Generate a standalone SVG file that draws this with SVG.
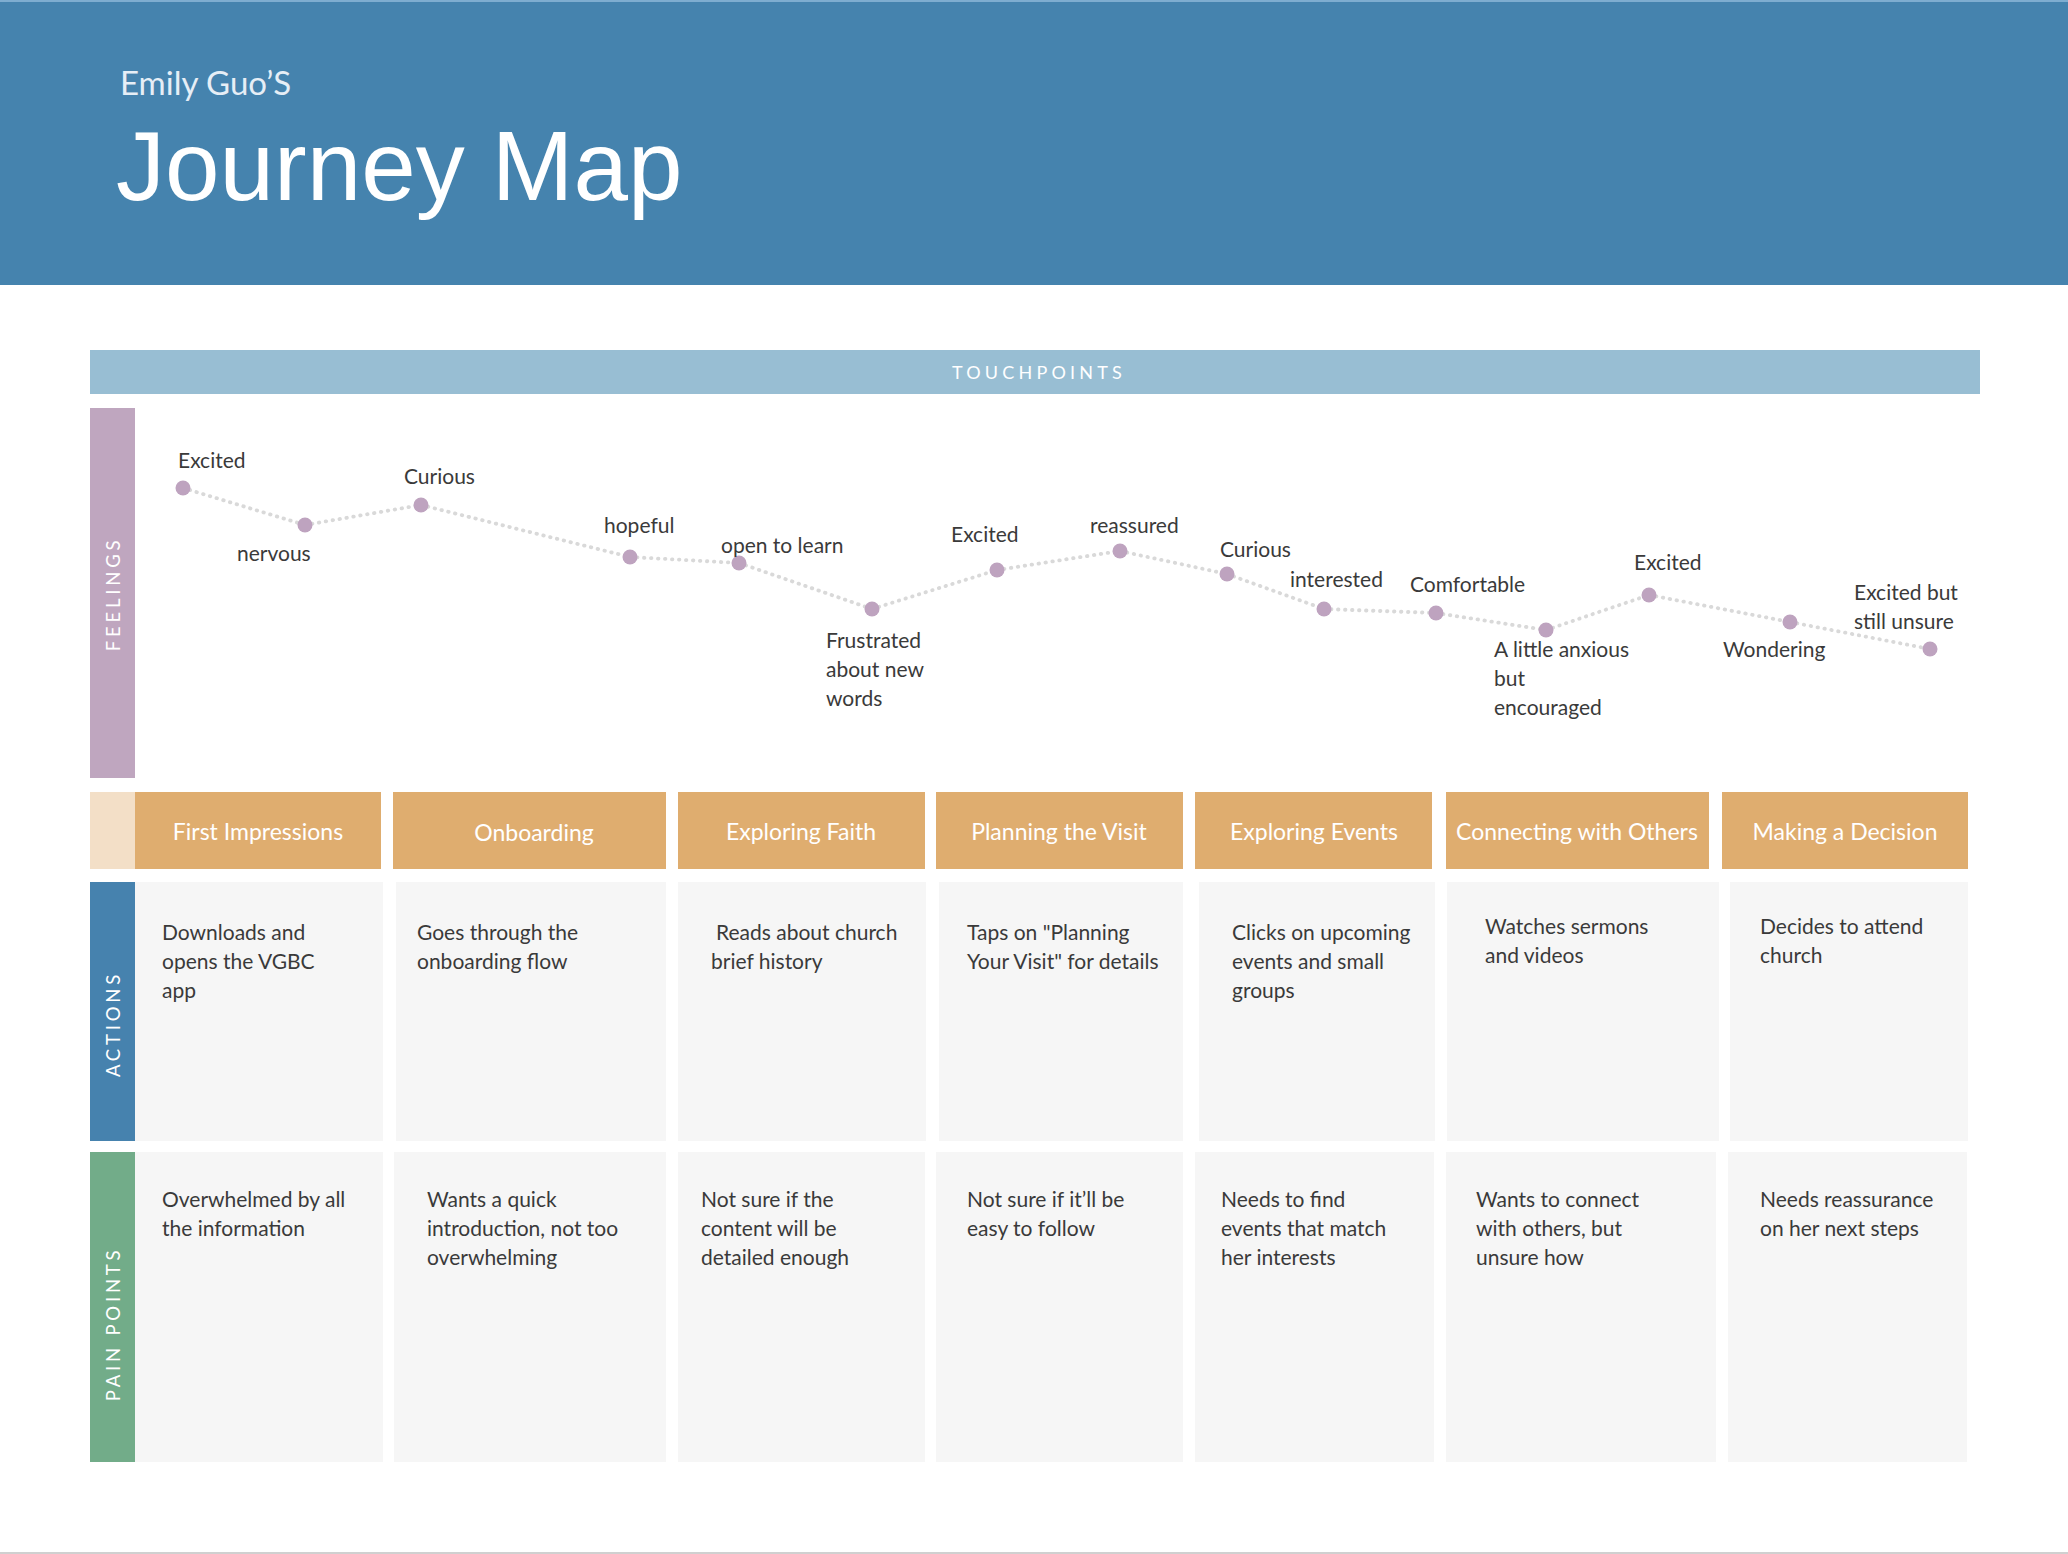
<svg xmlns="http://www.w3.org/2000/svg" width="2068" height="1554" viewBox="0 0 2068 1554">
  <style>
    .txt { font-family: Lato, "Open Sans", "Liberation Sans", sans-serif; font-size: 21px; fill: #3a3a3a; }
    .stage { font-family: Lato, "Open Sans", "Liberation Sans", sans-serif; font-size: 23px; fill: #ffffff; text-anchor: middle; }
    .side { font-family: Lato, "Open Sans", "Liberation Sans", sans-serif; font-size: 18.5px; fill: #ffffff; letter-spacing: 3.8px; text-anchor: middle; }
    .cell { fill: #f6f6f6; }
    .stagebox { fill: #dfad6f; }
    .dot { fill: #bea3bf; }
    .link { stroke: #d9d9d9; stroke-width: 3.8; stroke-linecap: round; stroke-dasharray: 0.5 6.5; fill: none; }
  </style>

  <!-- header band -->
  <g id="header">
    <rect x="0" y="0" width="2068" height="285" fill="#4583ae"/>
    <rect x="0" y="0" width="2068" height="2" fill="#7eadd0"/>
    <text x="120" y="95" font-family="Lato, 'Open Sans', sans-serif" font-size="33" fill="#e6eef6">Emily Guo’S</text>
    <text x="116" y="200" font-family="'Liberation Sans', Arial, sans-serif" font-size="98" fill="#ffffff">Journey Map</text>
  </g>

  <!-- touchpoints bar -->
  <g id="touchpoints">
    <rect x="90" y="350" width="1890" height="44" fill="#98bed3"/>
    <text x="1039" y="379" font-family="Lato, 'Open Sans', sans-serif" font-size="18" fill="#ffffff" letter-spacing="4.2" text-anchor="middle">TOUCHPOINTS</text>
  </g>

  <!-- row labels -->
  <g id="row-feelings">
    <rect x="90" y="408" width="45" height="370" fill="#bfa6bf"/>
    <text class="side" transform="translate(120 594) rotate(-90)">FEELINGS</text>
  </g>
  <g id="row-actions">
    <rect x="90" y="882" width="45" height="259" fill="#4682ae"/>
    <text class="side" transform="translate(120 1024) rotate(-90)">ACTIONS</text>
  </g>
  <g id="row-pain-points">
    <rect x="90" y="1152" width="45" height="310" fill="#72ac89"/>
    <text class="side" transform="translate(120 1324) rotate(-90)">PAIN POINTS</text>
  </g>

  <!-- feelings curve connectors -->
  <g id="connectors">
    <line class="link" x1="183" y1="488" x2="305" y2="525"/>
    <line class="link" x1="305" y1="525" x2="421" y2="505"/>
    <line class="link" x1="421" y1="505" x2="630" y2="557"/>
    <line class="link" x1="630" y1="557" x2="739" y2="563"/>
    <line class="link" x1="739" y1="563" x2="872" y2="609"/>
    <line class="link" x1="872" y1="609" x2="997" y2="570"/>
    <line class="link" x1="997" y1="570" x2="1120" y2="551"/>
    <line class="link" x1="1120" y1="551" x2="1227" y2="574"/>
    <line class="link" x1="1227" y1="574" x2="1324" y2="609"/>
    <line class="link" x1="1324" y1="609" x2="1436" y2="613"/>
    <line class="link" x1="1436" y1="613" x2="1546" y2="630"/>
    <line class="link" x1="1546" y1="630" x2="1649" y2="595"/>
    <line class="link" x1="1649" y1="595" x2="1790" y2="622"/>
    <line class="link" x1="1790" y1="622" x2="1930" y2="649"/>
  </g>

  <!-- feelings points -->
  <g id="feel-1"><circle class="dot" cx="183" cy="488" r="7.5"/><text class="txt" x="178" y="468">Excited</text></g>
  <g id="feel-2"><circle class="dot" cx="305" cy="525" r="7.5"/><text class="txt" x="237" y="561">nervous</text></g>
  <g id="feel-3"><circle class="dot" cx="421" cy="505" r="7.5"/><text class="txt" x="404" y="484">Curious</text></g>
  <g id="feel-4"><circle class="dot" cx="630" cy="557" r="7.5"/><text class="txt" x="604" y="533">hopeful</text></g>
  <g id="feel-5"><circle class="dot" cx="739" cy="563" r="7.5"/><text class="txt" x="721" y="553">open to learn</text></g>
  <g id="feel-6"><circle class="dot" cx="872" cy="609" r="7.5"/>
    <text class="txt" x="826" y="648">Frustrated</text>
    <text class="txt" x="826" y="677">about new</text>
    <text class="txt" x="826" y="706">words</text>
  </g>
  <g id="feel-7"><circle class="dot" cx="997" cy="570" r="7.5"/><text class="txt" x="951" y="542">Excited</text></g>
  <g id="feel-8"><circle class="dot" cx="1120" cy="551" r="7.5"/><text class="txt" x="1090" y="533">reassured</text></g>
  <g id="feel-9"><circle class="dot" cx="1227" cy="574" r="7.5"/><text class="txt" x="1220" y="557">Curious</text></g>
  <g id="feel-10"><circle class="dot" cx="1324" cy="609" r="7.5"/><text class="txt" x="1290" y="587">interested</text></g>
  <g id="feel-11"><circle class="dot" cx="1436" cy="613" r="7.5"/><text class="txt" x="1410" y="592">Comfortable</text></g>
  <g id="feel-12"><circle class="dot" cx="1546" cy="630" r="7.5"/>
    <text class="txt" x="1494" y="657">A little anxious</text>
    <text class="txt" x="1494" y="686">but</text>
    <text class="txt" x="1494" y="715">encouraged</text>
  </g>
  <g id="feel-13"><circle class="dot" cx="1649" cy="595" r="7.5"/><text class="txt" x="1634" y="570">Excited</text></g>
  <g id="feel-14"><circle class="dot" cx="1790" cy="622" r="7.5"/><text class="txt" x="1723" y="657">Wondering</text></g>
  <g id="feel-15"><circle class="dot" cx="1930" cy="649" r="7.5"/>
    <text class="txt" x="1854" y="600">Excited but</text>
    <text class="txt" x="1854" y="629">still unsure</text>
  </g>

  <!-- stage headers -->
  <g id="stage-lead"><rect x="90" y="792" width="45" height="77" fill="#f3dfc7"/></g>
  <g id="stage-1"><rect class="stagebox" x="135" y="792" width="246" height="77"/><text class="stage" x="258" y="840">First Impressions</text></g>
  <g id="stage-2"><rect class="stagebox" x="393" y="792" width="273" height="77"/><text class="stage" x="534" y="841">Onboarding</text></g>
  <g id="stage-3"><rect class="stagebox" x="678" y="792" width="247" height="77"/><text class="stage" x="801" y="840">Exploring Faith</text></g>
  <g id="stage-4"><rect class="stagebox" x="936" y="792" width="247" height="77"/><text class="stage" x="1059" y="840">Planning the Visit</text></g>
  <g id="stage-5"><rect class="stagebox" x="1195" y="792" width="237" height="77"/><text class="stage" x="1314" y="840">Exploring Events</text></g>
  <g id="stage-6"><rect class="stagebox" x="1446" y="792" width="263" height="77"/><text class="stage" x="1577" y="840">Connecting with Others</text></g>
  <g id="stage-7"><rect class="stagebox" x="1722" y="792" width="246" height="77"/><text class="stage" x="1845" y="840">Making a Decision</text></g>

  <!-- actions -->
  <g id="action-1"><rect class="cell" x="135" y="882" width="248" height="259"/>
    <text class="txt" x="162" y="940">Downloads and</text>
    <text class="txt" x="162" y="969">opens the VGBC</text>
    <text class="txt" x="162" y="998">app</text>
  </g>
  <g id="action-2"><rect class="cell" x="396" y="882" width="270" height="259"/>
    <text class="txt" x="417" y="940">Goes through the</text>
    <text class="txt" x="417" y="969">onboarding flow</text>
  </g>
  <g id="action-3"><rect class="cell" x="678" y="882" width="248" height="259"/>
    <text class="txt" x="716" y="940">Reads about church</text>
    <text class="txt" x="711" y="969">brief history</text>
  </g>
  <g id="action-4"><rect class="cell" x="939" y="882" width="244" height="259"/>
    <text class="txt" x="967" y="940">Taps on "Planning</text>
    <text class="txt" x="967" y="969">Your Visit" for details</text>
  </g>
  <g id="action-5"><rect class="cell" x="1199" y="882" width="236" height="259"/>
    <text class="txt" x="1232" y="940">Clicks on upcoming</text>
    <text class="txt" x="1232" y="969">events and small</text>
    <text class="txt" x="1232" y="998">groups</text>
  </g>
  <g id="action-6"><rect class="cell" x="1447" y="882" width="272" height="259"/>
    <text class="txt" x="1485" y="934">Watches sermons</text>
    <text class="txt" x="1485" y="963">and videos</text>
  </g>
  <g id="action-7"><rect class="cell" x="1730" y="882" width="238" height="259"/>
    <text class="txt" x="1760" y="934">Decides to attend</text>
    <text class="txt" x="1760" y="963">church</text>
  </g>

  <!-- pain points -->
  <g id="pain-1"><rect class="cell" x="135" y="1152" width="248" height="310"/>
    <text class="txt" x="162" y="1207">Overwhelmed by all</text>
    <text class="txt" x="162" y="1236">the information</text>
  </g>
  <g id="pain-2"><rect class="cell" x="394" y="1152" width="272" height="310"/>
    <text class="txt" x="427" y="1207">Wants a quick</text>
    <text class="txt" x="427" y="1236">introduction, not too</text>
    <text class="txt" x="427" y="1265">overwhelming</text>
  </g>
  <g id="pain-3"><rect class="cell" x="678" y="1152" width="247" height="310"/>
    <text class="txt" x="701" y="1207">Not sure if the</text>
    <text class="txt" x="701" y="1236">content will be</text>
    <text class="txt" x="701" y="1265">detailed enough</text>
  </g>
  <g id="pain-4"><rect class="cell" x="936" y="1152" width="247" height="310"/>
    <text class="txt" x="967" y="1207">Not sure if it’ll be</text>
    <text class="txt" x="967" y="1236">easy to follow</text>
  </g>
  <g id="pain-5"><rect class="cell" x="1195" y="1152" width="239" height="310"/>
    <text class="txt" x="1221" y="1207">Needs to find</text>
    <text class="txt" x="1221" y="1236">events that match</text>
    <text class="txt" x="1221" y="1265">her interests</text>
  </g>
  <g id="pain-6"><rect class="cell" x="1446" y="1152" width="270" height="310"/>
    <text class="txt" x="1476" y="1207">Wants to connect</text>
    <text class="txt" x="1476" y="1236">with others, but</text>
    <text class="txt" x="1476" y="1265">unsure how</text>
  </g>
  <g id="pain-7"><rect class="cell" x="1728" y="1152" width="239" height="310"/>
    <text class="txt" x="1760" y="1207">Needs reassurance</text>
    <text class="txt" x="1760" y="1236">on her next steps</text>
  </g>

  <!-- bottom rule -->
  <rect x="0" y="1552" width="2068" height="2" fill="#d0d0d0"/>
</svg>
